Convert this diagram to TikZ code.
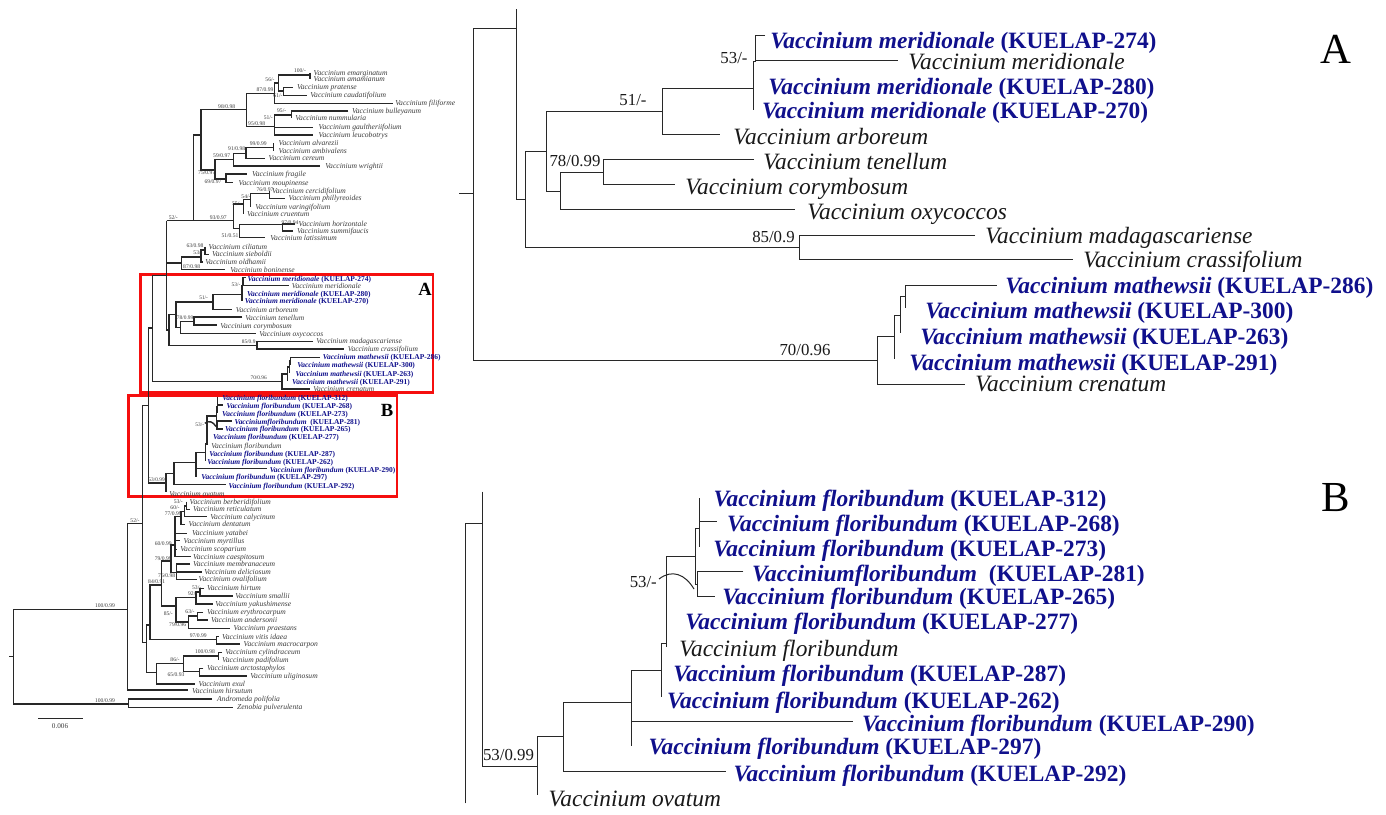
\documentclass[tikz,border=0pt]{standalone}
\usepackage{fontspec}
\setmainfont{Liberation Serif}
\definecolor{bluec}{RGB}{16,16,140}
\definecolor{txtc}{RGB}{25,25,25}
\definecolor{ltxtc}{RGB}{60,60,60}
\definecolor{linec}{RGB}{40,40,40}
\definecolor{boxred}{RGB}{245,15,15}
\tikzset{
 br/.style={draw=linec, line width=0.5pt},
 lbr/.style={draw=linec, line width=0.7pt},
 tx/.style={anchor=base west, inner sep=0pt, text=txtc, font=\fontsize{11.7}{13}\selectfont\itshape},
 bl/.style={anchor=base west, inner sep=0pt, text=bluec, font=\fontsize{11.7}{13}\selectfont\bfseries\itshape},
 sup/.style={inner sep=0pt, text=txtc, font=\fontsize{8.4}{9}\selectfont},
 ltx/.style={anchor=base west, inner sep=0pt, text=ltxtc, font=\fontsize{3.8}{4}\selectfont\itshape},
 lsup/.style={inner sep=0pt, text=ltxtc, font=\fontsize{2.8}{3}\selectfont},
 redbox/.style={draw=boxred, line width=1.3pt},
 biglab/.style={anchor=base west, inner sep=0pt, text=black, font=\fontsize{21.4}{22}\selectfont},
 smlab/.style={anchor=base west, inner sep=0pt, text=black, font=\fontsize{9.3}{10}\selectfont\bfseries},
}
\newcommand\cladeA{%
\draw[br] (459,193.7) -- (473.7,193.7);
\draw[br] (516.7,9) -- (516.7,199.3) -- (525,199.3);
\draw[br] (473.7,28.3) -- (516.7,28.3);
\draw[br] (473.7,28.3) -- (473.7,360) -- (877.7,360);
\draw[br] (546.7,151) -- (525,151) -- (525,247.3) -- (799.3,247.3);
\draw[br] (662.7,111.7) -- (546.7,111.7) -- (546.7,191.3) -- (560.7,191.3);
\draw[br] (753.3,88.3) -- (662.7,88.3) -- (662.7,134.7) -- (720,134.7);
\draw[br] (755.7,61.7) -- (753.3,61.7) -- (753.3,110);
\draw[br] (765,35) -- (755.7,35) -- (755.7,61.7);
\draw[br] (755.7,60) -- (898.3,60);
\draw[br] (603.3,172.7) -- (560.7,172.7) -- (560.7,209.7) -- (795,209.7);
\draw[br] (754,159.3) -- (603.3,159.3) -- (603.3,184.3) -- (675,184.3);
\draw[br] (975,235) -- (799.3,235) -- (799.3,259.3) -- (1072.7,259.3);
\draw[br] (894.3,336.7) -- (877.7,336.7) -- (877.7,384) -- (965,384);
\draw[br] (900.7,315) -- (894.3,315) -- (894.3,359.3);
\draw[br] (905,296) -- (900.7,296) -- (900.7,333);
\draw[br] (996.7,285) -- (905,285) -- (905,308);
\node[bl] (a274) at (770,48) {Vaccinium meridionale \upshape(KUELAP-274)};
\node[tx] (amer) at (908,69.7) {Vaccinium meridionale};
\node[bl] (a280) at (768,94.7) {Vaccinium meridionale \upshape(KUELAP-280)};
\node[bl] (a270) at (761.7,118) {Vaccinium meridionale \upshape(KUELAP-270)};
\node[tx] (aarb) at (733,144.7) {Vaccinium arboreum};
\node[tx] (aten) at (763,169.7) {Vaccinium tenellum};
\node[tx] (acor) at (685,194.7) {Vaccinium corymbosum};
\node[tx] (aoxy) at (807,219.5) {Vaccinium oxycoccos};
\node[tx] (amad) at (985,243) {Vaccinium madagascariense};
\node[tx] (acra) at (1083,267.3) {Vaccinium crassifolium};
\node[bl] (a286) at (1005,293) {Vaccinium mathewsii \upshape(KUELAP-286)};
\node[bl] (a300) at (925,318) {Vaccinium mathewsii \upshape(KUELAP-300)};
\node[bl] (a263) at (920,344) {Vaccinium mathewsii \upshape(KUELAP-263)};
\node[bl] (a291) at (909,370.7) {Vaccinium mathewsii \upshape(KUELAP-291)};
\node[tx] (acre) at (975,391.3) {Vaccinium crenatum};
\node[sup] (s53a) at (734,58) {53/-};
\node[sup] (s51a) at (633,100) {51/-};
\node[sup] (s78a) at (575,161.5) {78/0.99};
\node[sup] (s85a) at (773.5,237.5) {85/0.9};
\node[sup] (s70a) at (805,350) {70/0.96};
}
\newcommand\cladeB{%
\draw[br] (465,803.3) -- (465,523.3) -- (482.7,523.3);
\draw[br] (482.7,491.7) -- (482.7,766) -- (537.7,766);
\draw[br] (563.3,736.7) -- (537.7,736.7) -- (537.7,795);
\draw[br] (631.7,702.3) -- (563.3,702.3) -- (563.3,771) -- (726,771);
\draw[br] (661.7,670) -- (631.7,670) -- (631.7,746);
\draw[br] (631.7,721) -- (853.3,721);
\draw[br] (666,643.3) -- (661.7,643.3) -- (661.7,696.7);
\draw[br] (695,556.7) -- (666,556.7) -- (666,646.7);
\draw[br] (699.3,528.3) -- (695,528.3) -- (695,584) -- (697,584);
\draw[br] (699.3,498.3) -- (699.3,546.7);
\draw[br] (699.3,521.7) -- (716.7,521.7);
\draw[br] (743.3,571.7) -- (697,571.7) -- (697,596.7) -- (715,596.7);
\draw[br] (659,579) .. controls (672,569) and (685,574) .. (694,589);
\node[bl] (b312) at (713.3,506.3) {Vaccinium floribundum \upshape(KUELAP-312)};
\node[bl] (b268) at (726.7,531.3) {Vaccinium floribundum \upshape(KUELAP-268)};
\node[bl] (b273) at (713,556.3) {Vaccinium floribundum \upshape(KUELAP-273)};
\node[bl] (b281) at (751.7,581.3) {Vacciniumfloribundum\ \ \upshape(KUELAP-281)};
\node[bl] (b265) at (722,604.7) {Vaccinium floribundum \upshape(KUELAP-265)};
\node[bl] (b277) at (685,629.7) {Vaccinium floribundum \upshape(KUELAP-277)};
\node[tx] (bflo) at (679,656.3) {Vaccinium floribundum};
\node[bl] (b287) at (673,681.3) {Vaccinium floribundum \upshape(KUELAP-287)};
\node[bl] (b262) at (666.7,708) {Vaccinium floribundum \upshape(KUELAP-262)};
\node[bl] (b290) at (861.7,731.3) {Vaccinium floribundum \upshape(KUELAP-290)};
\node[bl] (b297) at (648.3,754.7) {Vaccinium floribundum \upshape(KUELAP-297)};
\node[bl] (b292) at (733.3,781.3) {Vaccinium floribundum \upshape(KUELAP-292)};
\node[tx] (bova) at (548.3,806.3) {Vaccinium ovatum};
\node[sup] (s53b) at (643.3,582.5) {53/-};
\node[sup] (s53c) at (508.5,755) {53/0.99};
}
\begin{document}
\begin{tikzpicture}[x=0.5pt,y=-0.5pt]
\useasboundingbox (0,0) rectangle (1386,814);
\fill[white] (0,0) rectangle (1386,814);
% red boxes (under the left tree)
\draw[redbox] (140.3,274.3) rectangle (433,392.5);
\draw[redbox] (128.3,395.5) rectangle (397,496.5);
\node[smlab] (lA) at (418,295.5) {A};
\node[smlab] (lB) at (380.5,416.7) {B};
% ---------- right panels ----------
\cladeA
\cladeB
\node[biglab] (labA) at (1320,63.3) {A};
\node[biglab] (labB) at (1320.7,511.7) {B};
% ---------- left tree: scaled copies ----------
\begin{scope}[shift={(1.116,266.2)}, scale=0.32, transform shape, name prefix=LA-,
  br/.style={draw=linec, line width=0.7pt}, tx/.append style={text=ltxtc}, sup/.append style={text=ltxtc}]
\cladeA
\end{scope}
\begin{scope}[shift={(-6.1,238)}, scale=0.32, transform shape, name prefix=LB-,
  br/.style={draw=linec, line width=0.7pt}, tx/.append style={text=ltxtc}, sup/.append style={text=ltxtc}]
\cladeB
\end{scope}
% ---------- left tree: connections ----------
\draw[lbr] (148.2,328.2) -- (148.2,396);
\draw[lbr] (142.7,494) -- (142.7,642.7) -- (146.7,642.7);
\draw[lbr] (166.5,220.5) -- (166.5,270);
% upper clade
\draw[lbr] (166.5,220.5) -- (233.3,220.5);
\draw[lbr] (193.3,220.5) -- (193.3,135) -- (201,135);
\draw[lbr] (246.7,109.3) -- (201,109.3) -- (201,170) -- (215,170);
\draw[lbr] (274.3,93.3) -- (246.7,93.3) -- (246.7,126.7) -- (274.3,126.7);
\draw[lbr] (278.3,83) -- (274.3,83) -- (274.3,103.3) -- (393.3,103.3);
\draw[lbr] (310,75) -- (278.3,75) -- (278.3,91) -- (283.3,91);
\draw[lbr] (310,72.7) -- (310,79.3);
\draw[lbr] (292.7,87.3) -- (283.3,87.3) -- (283.3,95.3) -- (306.7,95.3);
\draw[lbr] (291.7,115) -- (274.3,115) -- (274.3,135) -- (313.3,135);
\draw[lbr] (274.3,127.3) -- (313.3,127.3);
\draw[lbr] (348.3,111) -- (291.7,111) -- (291.7,118.3);
\draw[lbr] (233.3,159.3) -- (215,159.3) -- (215,179) -- (226,179);
\draw[lbr] (246,153.3) -- (233.3,153.3) -- (233.3,166) -- (320,166);
\draw[lbr] (273.3,147.3) -- (246,147.3) -- (246,158.3) -- (265,158.3);
\draw[lbr] (273.3,143.3) -- (273.3,150.7);
\draw[lbr] (246.7,174) -- (226,174) -- (226,182.7) -- (233.3,182.7);
\draw[lbr] (243.3,204) -- (233.3,204) -- (233.3,228.3) -- (239.3,228.3);
\draw[lbr] (250.7,199.3) -- (243.3,199.3) -- (243.3,214.3);
\draw[lbr] (269.3,193.3) -- (250.7,193.3) -- (250.7,206.7);
\draw[lbr] (269.3,191) -- (269.3,198.3) -- (285,198.3);
\draw[lbr] (282.7,224.7) -- (239.3,224.7) -- (239.3,237.7) -- (265,237.7);
\draw[lbr] (295,224) -- (282.7,224) -- (282.7,231) -- (293.3,231);
\draw[lbr] (166.5,263) -- (181.7,263);
\draw[lbr] (201,257) -- (181.7,257) -- (181.7,269.7) -- (225,269.7);
\draw[lbr] (205,250) -- (201,250) -- (201,262) -- (203,262);
\draw[lbr] (205,246.7) -- (205,254.3) -- (209,254.3);
% lower clade
\draw[lbr] (9.3,656.7) -- (13.3,656.7);
\draw[lbr] (127.7,609.3) -- (13.3,609.3) -- (13.3,704) -- (128.3,704);
\draw[lbr] (142.7,523.3) -- (127.7,523.3) -- (127.7,690) -- (188.3,690);
\draw[lbr] (211.7,699) -- (128.3,699) -- (128.3,707.3) -- (233.3,707.3);
\draw[lbr] (150,625) -- (146.7,625) -- (146.7,672.7) -- (156.7,672.7);
\draw[lbr] (161.7,585) -- (150,585) -- (150,639.3) -- (216.7,639.3);
\draw[lbr] (171,561) -- (161.7,561) -- (161.7,606) -- (176,606);
\draw[lbr] (175,545) -- (171,545) -- (171,572.7) -- (176.7,572.7);
\draw[lbr] (181,516.7) -- (175,516.7) -- (175,556.7) -- (190.7,556.7);
\draw[lbr] (175,533.3) -- (186.7,533.3);
\draw[lbr] (175,540.7) -- (180,540.7);
\draw[lbr] (175,549.3) -- (177,549.3);
\draw[lbr] (184.3,511.7) -- (181,511.7) -- (181,524.3) -- (185,524.3);
\draw[lbr] (186.7,506) -- (184.3,506) -- (184.3,516.7) -- (206.7,516.7);
\draw[lbr] (186.7,501.7) -- (186.7,509.3) -- (190,509.3);
\draw[lbr] (190,564) -- (176.7,564) -- (176.7,579.3) -- (196.7,579.3);
\draw[lbr] (176.7,572) -- (201.7,572);
\draw[lbr] (196,597.3) -- (176,597.3) -- (176,622) -- (188.3,622);
\draw[lbr] (200,592) -- (196,592) -- (196,604) -- (212.7,604);
\draw[lbr] (204,588.3) -- (200,588.3) -- (200,596) -- (233.3,596);
\draw[lbr] (197.3,616) -- (188.3,616) -- (188.3,628.3) -- (230,628.3);
\draw[lbr] (203,612.3) -- (197.3,612.3) -- (197.3,620) -- (207.5,620);
\draw[lbr] (218.7,636.7) -- (216.7,636.7) -- (216.7,644) -- (240,644);
\draw[lbr] (183.3,663.3) -- (156.7,663.3) -- (156.7,684) -- (195,684);
\draw[lbr] (218.3,656) -- (183.3,656) -- (183.3,671.7) -- (199.3,671.7);
\draw[lbr] (222,652.3) -- (218.3,652.3) -- (218.3,660);
\draw[lbr] (203.3,668.3) -- (199.3,668.3) -- (199.3,676) -- (246.7,676);
% scale bar
\draw[lbr] (38.3,718.3) -- (82.7,718.3);
\node[lsup, font=\fontsize{3.6}{4}\selectfont] (scl) at (60,726) {0.006};
% left leaves
\node[ltx] (l1) at (313.3,75.2) {Vaccinium emarginatum};
\node[ltx] (l2) at (313.3,81.8) {Vaccinium amamianum};
\node[ltx] (l3) at (296.7,89.8) {Vaccinium pratense};
\node[ltx] (l4) at (310,97.8) {Vaccinium caudatifolium};
\node[ltx] (l5) at (395,105.8) {Vaccinium filiforme};
\node[ltx] (l6) at (351.7,113.2) {Vaccinium bulleyanum};
\node[ltx] (l7) at (295,120.8) {Vaccinium nummularia};
\node[ltx] (l8) at (318.3,129.8) {Vaccinium gaultheriifolium};
\node[ltx] (l9) at (318.3,137.8) {Vaccinium leucobotrys};
\node[ltx] (l10) at (278.3,145.8) {Vaccinium alvarezii};
\node[ltx] (l11) at (278.3,153.5) {Vaccinium ambivalens};
\node[ltx] (l12) at (268.3,160.8) {Vaccinium cereum};
\node[ltx] (l13) at (325,168.5) {Vaccinium wrightii};
\node[ltx] (l14) at (251.7,176.5) {Vaccinium fragile};
\node[ltx] (l15) at (238.3,185.2) {Vaccinium moupinense};
\node[ltx] (l16) at (271.7,193.5) {Vaccinium cercidifolium};
\node[ltx] (l17) at (288.3,200.8) {Vaccinium phillyreoides};
\node[ltx] (l18) at (255,209.2) {Vaccinium varingifolium};
\node[ltx] (l19) at (246.7,216.8) {Vaccinium cruentum};
\node[ltx] (l20) at (298.3,226.5) {Vaccinium horizontale};
\node[ltx] (l21) at (296.7,233.5) {Vaccinium summifaucis};
\node[ltx] (l22) at (270,240.2) {Vaccinium latissimum};
\node[ltx] (l23) at (208.3,249.2) {Vaccinium ciliatum};
\node[ltx] (l24) at (211.7,256.8) {Vaccinium sieboldii};
\node[ltx] (l25) at (205,264.5) {Vaccinium oldhamii};
\node[ltx] (l26) at (230,272.2) {Vaccinium boninense};
\node[ltx] (l27) at (189.3,504.2) {Vaccinium berberidifolium};
\node[ltx] (l28) at (192.7,511.8) {Vaccinium reticulatum};
\node[ltx] (l29) at (210,519.2) {Vaccinium calycinum};
\node[ltx] (l30) at (188.3,526.8) {Vaccinium dentatum};
\node[ltx] (l31) at (191.7,535.8) {Vaccinium yatabei};
\node[ltx] (l32) at (183.3,543.2) {Vaccinium myrtillus};
\node[ltx] (l33) at (180,551.8) {Vaccinium scoparium};
\node[ltx] (l34) at (192.7,559.2) {Vaccinium caespitosum};
\node[ltx] (l35) at (192.7,566.5) {Vaccinium membranaceum};
\node[ltx] (l36) at (204,574.5) {Vaccinium deliciosum};
\node[ltx] (l37) at (198.3,581.8) {Vaccinium ovalifolium};
\node[ltx] (l38) at (206.7,590.8) {Vaccinium hirtum};
\node[ltx] (l39) at (235,598.5) {Vaccinium smallii};
\node[ltx] (l40) at (215,606.5) {Vaccinium yakushimense};
\node[ltx] (l41) at (206.7,614.8) {Vaccinium erythrocarpum};
\node[ltx] (l42) at (210.7,622.5) {Vaccinium andersonii};
\node[ltx] (l43) at (233.3,630.8) {Vaccinium praestans};
\node[ltx] (l44) at (221.7,639.2) {Vaccinium vitis idaea};
\node[ltx] (l45) at (243.3,646.5) {Vaccinium macrocarpon};
\node[ltx] (l46) at (225,654.8) {Vaccinium cylindraceum};
\node[ltx] (l47) at (221.7,662.5) {Vaccinium padifolium};
\node[ltx] (l48) at (206.7,670.8) {Vaccinium arctostaphylos};
\node[ltx] (l49) at (250,678.5) {Vaccinium uliginosum};
\node[ltx] (l50) at (198.3,686.5) {Vaccinium exul};
\node[ltx] (l51) at (191.7,693.2) {Vaccinium hirsutum};
\node[ltx] (l52) at (216.7,701.5) {Andromeda polifolia};
\node[ltx] (l53) at (236.7,709.8) {Zenobia pulverulenta};
% left support values
\node[lsup] (t1) at (300,71) {100/-};
\node[lsup] (t2) at (270,80) {56/-};
\node[lsup] (t3) at (265,89.3) {87/0.99};
\node[lsup] (t4) at (278,96) {61/-};
\node[lsup] (t5) at (226.7,106.5) {98/0.98};
\node[lsup] (t6) at (281.7,110.7) {95/-};
\node[lsup] (t7) at (268.3,117.5) {51/-};
\node[lsup] (t8) at (256.7,124) {95/0.98};
\node[lsup] (t9) at (258.3,143.5) {99/0.99};
\node[lsup] (t10) at (236.7,149) {91/0.98};
\node[lsup] (t11) at (221.7,156) {59/0.97};
\node[lsup] (t12) at (206.7,172.7) {75/0.97};
\node[lsup] (t13) at (213,181.7) {69/0.97};
\node[lsup] (t14) at (265,190) {76/0.97};
\node[lsup] (t15) at (246,196.7) {54/-};
\node[lsup] (t16) at (236.7,203.3) {55/-};
\node[lsup] (t17) at (173.3,218) {52/-};
\node[lsup] (t18) at (218.3,217.5) {93/0.97};
\node[lsup] (t19) at (290,222.2) {97/0.94};
\node[lsup] (t20) at (230,236) {51/0.51};
\node[lsup] (t21) at (195,245.5) {63/0.98};
\node[lsup] (t22) at (198,252.2) {53/-};
\node[lsup] (t23) at (191.7,266.5) {87/0.98};
\node[lsup] (t24) at (178.3,501.7) {53/-};
\node[lsup] (t25) at (175,507.3) {60/-};
\node[lsup] (t26) at (173.3,514) {77/0.99};
\node[lsup] (t27) at (163.3,543.3) {60/0.99};
\node[lsup] (t28) at (163.3,558.3) {79/0.99};
\node[lsup] (t29) at (166.7,576) {76/0.98};
\node[lsup] (t30) at (156.7,581.7) {84/0.91};
\node[lsup] (t31) at (196.7,587.2) {53/-};
\node[lsup] (t32) at (192.7,594) {92/-};
\node[lsup] (t33) at (190,611.2) {63/-};
\node[lsup] (t34) at (168.3,614) {85/-};
\node[lsup] (t35) at (177.7,624.5) {79/0.96};
\node[lsup] (t36) at (198.3,635.5) {97/0.99};
\node[lsup] (t37) at (205,652) {100/0.98};
\node[lsup] (t38) at (175,660) {86/-};
\node[lsup] (t39) at (176,675) {65/0.93};
\node[lsup] (t40) at (135,520.5) {52/-};
\node[lsup] (t41) at (105,605.5) {100/0.99};
\node[lsup] (t42) at (105,700.5) {100/0.99};
\end{tikzpicture}
\end{document}
